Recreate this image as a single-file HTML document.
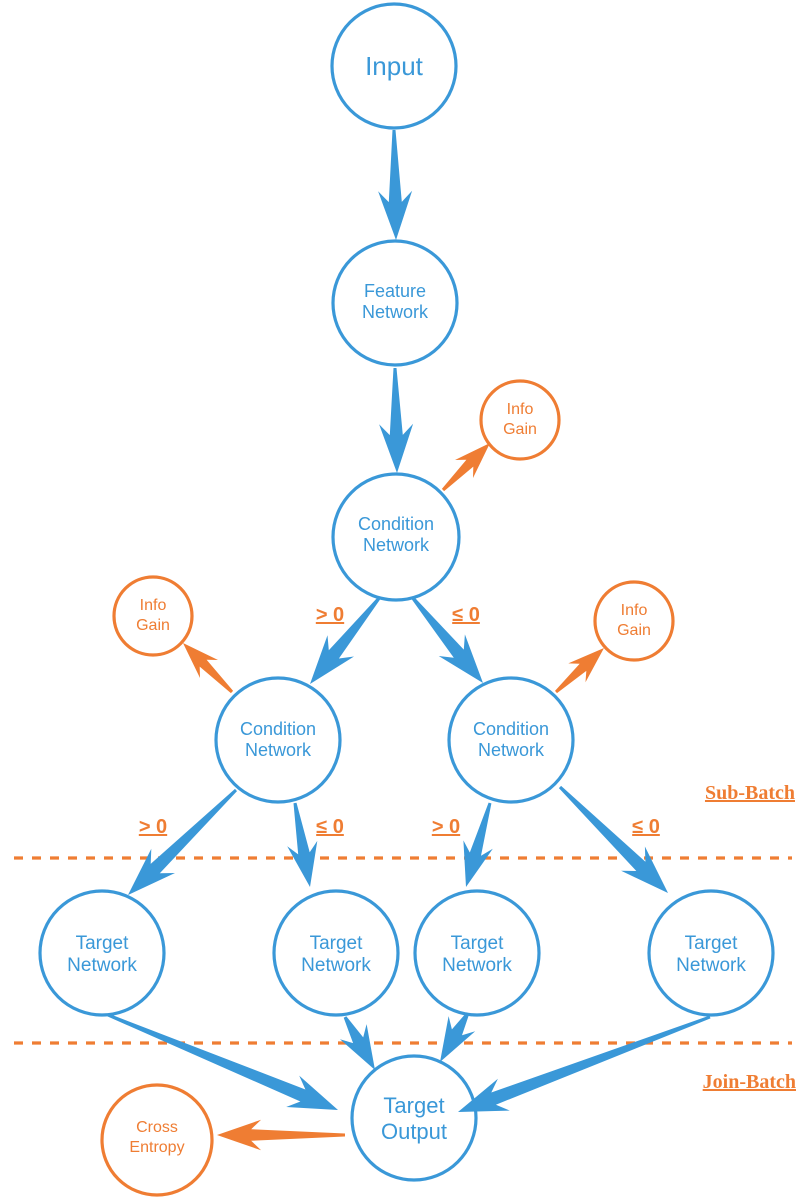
<!DOCTYPE html>
<html><head><meta charset="utf-8"><style>
html,body{margin:0;padding:0;background:#fff}
svg{display:block}
text{font-family:"Liberation Sans","DejaVu Sans",sans-serif}
.b{fill:#3a98d8}.o{fill:#ef7d33}
.lab{font-weight:bold;font-size:20px;fill:#ef7d33;text-decoration:underline}
.bt{font-family:"Liberation Serif",serif;font-weight:bold;font-size:20px;fill:#ef7d33;text-decoration:underline}
</style></head><body>
<svg id="s" width="811" height="1200" viewBox="0 0 811 1200" xmlns="http://www.w3.org/2000/svg">
<g fill="none" stroke-width="3.2">
<circle cx="394" cy="66" r="62" stroke="#3a98d8"/>
<circle cx="395" cy="303" r="62" stroke="#3a98d8"/>
<circle cx="396" cy="537" r="63" stroke="#3a98d8"/>
<circle cx="278" cy="740" r="62" stroke="#3a98d8"/>
<circle cx="511" cy="740" r="62" stroke="#3a98d8"/>
<circle cx="102" cy="953" r="62" stroke="#3a98d8"/>
<circle cx="336" cy="953" r="62" stroke="#3a98d8"/>
<circle cx="477" cy="953" r="62" stroke="#3a98d8"/>
<circle cx="711" cy="953" r="62" stroke="#3a98d8"/>
<circle cx="414" cy="1118" r="62" stroke="#3a98d8"/>
<circle cx="520" cy="420" r="39" stroke="#ef7d33"/>
<circle cx="153" cy="616" r="39" stroke="#ef7d33"/>
<circle cx="634" cy="621" r="39" stroke="#ef7d33"/>
<circle cx="157" cy="1140" r="55" stroke="#ef7d33"/>
<line x1="14" y1="858" x2="792" y2="858" stroke="#ef7d33" stroke-dasharray="9 9"/>
<line x1="14" y1="1043" x2="792" y2="1043" stroke="#ef7d33" stroke-dasharray="9 9"/>
</g>
<g id="arrows"></g>
<g text-anchor="middle" class="b">
<text x="394" y="75" font-size="26">Input</text>
<text x="395" y="297" font-size="18">Feature</text><text x="395" y="318" font-size="18">Network</text>
<text x="396" y="530" font-size="18">Condition</text><text x="396" y="551" font-size="18">Network</text>
<text x="278" y="735" font-size="18">Condition</text><text x="278" y="756" font-size="18">Network</text>
<text x="511" y="735" font-size="18">Condition</text><text x="511" y="756" font-size="18">Network</text>
<text x="102" y="949" font-size="19">Target</text><text x="102" y="971" font-size="19">Network</text>
<text x="336" y="949" font-size="19">Target</text><text x="336" y="971" font-size="19">Network</text>
<text x="477" y="949" font-size="19">Target</text><text x="477" y="971" font-size="19">Network</text>
<text x="711" y="949" font-size="19">Target</text><text x="711" y="971" font-size="19">Network</text>
<text x="414" y="1113" font-size="22">Target</text><text x="414" y="1139" font-size="22">Output</text>
</g>
<g text-anchor="middle" class="o">
<text x="520" y="414" font-size="16">Info</text><text x="520" y="434" font-size="16">Gain</text>
<text x="153" y="610" font-size="16">Info</text><text x="153" y="630" font-size="16">Gain</text>
<text x="634" y="615" font-size="16">Info</text><text x="634" y="635" font-size="16">Gain</text>
<text x="157" y="1132" font-size="16">Cross</text><text x="157" y="1152" font-size="16">Entropy</text>
</g>
<g text-anchor="middle">
<text class="lab" x="330" y="621">&gt; 0</text>
<text class="lab" x="466" y="621">≤ 0</text>
<text class="lab" x="153" y="833">&gt; 0</text>
<text class="lab" x="330" y="833">≤ 0</text>
<text class="lab" x="446" y="833">&gt; 0</text>
<text class="lab" x="646" y="833">≤ 0</text>
</g>
<text class="bt" x="795" y="799" text-anchor="end">Sub-Batch</text>
<text class="bt" x="796" y="1088" text-anchor="end">Join-Batch</text>
</svg>
<script>
var A=[
[394,130,396,240,'b',1],[395,368,397,473,'b',1],[380,597,310,684,'b',1],[412,597,483,683,'b',1],
[236,790,128,895,'b',1],[295,803,310,887,'b',0.9],[490,803,466,887,'b',0.9],[560,787,668,893,'b',1],
[108,1015,338,1110,'b',1],[345,1017,375,1070,'b',0.9],[468,1013,440,1062,'b',0.9],[710,1017,458,1112,'b',1],
[443,490,490,443,'o',0.75],[232,692,183,643,'o',0.75],[556,692,604,648,'o',0.75],[345,1135,217,1135,'o',0.9]];
var g=document.getElementById('arrows'),h='';
A.forEach(function(a){var sx=a[0],sy=a[1],tx=a[2],ty=a[3],k=a[5];
var dx=tx-sx,dy=ty-sy,l=Math.hypot(dx,dy);dx/=l;dy/=l;var nx=-dy,ny=dx;
var L=38*k,hw=17*k,w=13*k,nb=11*k,s0=1.5;
var bx=tx-dx*L,by=ty-dy*L;
function p(x,y){return x.toFixed(1)+','+y.toFixed(1)}
var pts=[p(sx+nx*s0,sy+ny*s0),p(bx+nx*w/2,by+ny*w/2),p(bx-dx*nb+nx*hw,by-dy*nb+ny*hw),p(tx,ty),
p(bx-dx*nb-nx*hw,by-dy*nb-ny*hw),p(bx-nx*w/2,by-ny*w/2),p(sx-nx*s0,sy-ny*s0)];
h+='<polygon points="'+pts.join(' ')+'" fill="'+(a[4]=='b'?'#3a98d8':'#ef7d33')+'"/>';});
g.innerHTML=h;
</script>
</body></html>
